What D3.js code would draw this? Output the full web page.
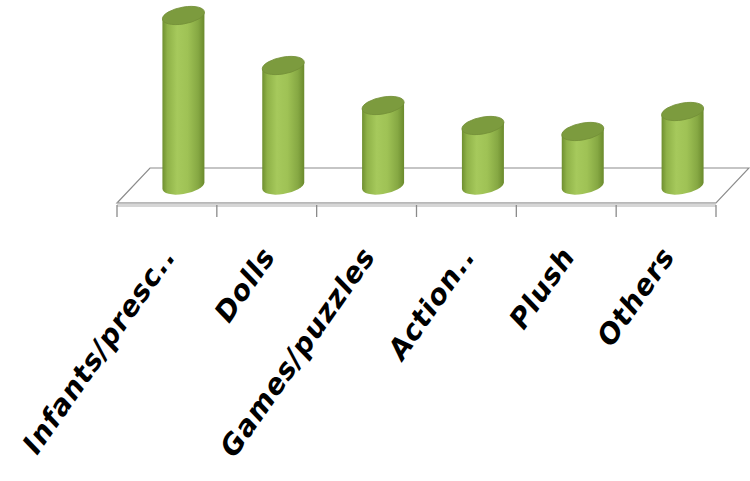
<!DOCTYPE html>
<html>
<head>
<meta charset="utf-8">
<script src="https://cdn.jsdelivr.net/npm/d3@7"></script>
<style>
	body { margin: 0; background: #fff; }
	text { font-family: "DejaVu Sans", sans-serif; }
</style>
</head>
<body>
<script>

// chart data
var categories = ["Infants/presc..", "Dolls", "Games/puzzles", "Action..", "Plush", "Others"];
var values = [17, 12, 8, 6, 5.4, 7.4];

var width = 750,
	height = 481;

// floor of the 3d plot
var floor_y = 203,
	depth_dx = 33,
	depth_dy = -35;

var CYL_R = 21,
	CYL_RY = 8.5,
	TILT = -9;

var LABEL_FONT = 28;

var svg = d3.select("body").append("svg")
	.attr("width", width)
	.attr("height", height);

var defs = svg.append("defs");

var side_grad = defs.append("linearGradient")
	.attr("id", "side")
	.attr("x1", "0%").attr("x2", "100%")
	.attr("y1", "0%").attr("y2", "0%");

side_grad.selectAll("stop")
	.data([
		{o: "0%", c: "#6f8f30"},
		{o: "12%", c: "#8fb248"},
		{o: "35%", c: "#a6c95c"},
		{o: "60%", c: "#9fc255"},
		{o: "85%", c: "#86a843"},
		{o: "100%", c: "#6a8a2c"}
	])
	.enter().append("stop")
	.attr("offset", function(d) { return d.o; })
	.attr("stop-color", function(d) { return d.c; });

var x = d3.scaleBand()
	.domain(categories)
	.range([117, 716])
	.padding(0);

var base_y = floor_y + depth_dy / 2;

var y = d3.scaleLinear()
	.domain([0, 17])
	.range([base_y, 15.5]);

// floor
var x0 = x.range()[0],
	x1 = x.range()[1];

svg.append("path")
	.attr("d", "M" + x0 + "," + floor_y +
		"L" + (x0 + depth_dx) + "," + (floor_y + depth_dy) +
		"L" + (x1 + depth_dx) + "," + (floor_y + depth_dy) +
		"L" + x1 + "," + floor_y + "Z")
	.attr("fill", "#fff")
	.attr("stroke", "#8c8c8c")
	.attr("stroke-width", 1.2);

// thick front edge
svg.append("rect")
	.attr("x", x0)
	.attr("y", floor_y)
	.attr("width", x1 - x0)
	.attr("height", 4)
	.attr("fill", "#d6d6d6");

svg.append("line")
	.attr("x1", x0).attr("x2", x1)
	.attr("y1", floor_y).attr("y2", floor_y)
	.attr("stroke", "#aaaaaa")
	.attr("stroke-width", 1);

// ticks
var tick_x = categories.map(function(d) { return x(d); }).concat([x1]);

svg.append("g")
	.selectAll("line")
	.data(tick_x)
	.enter().append("line")
	.attr("x1", function(d) { return d; })
	.attr("x2", function(d) { return d; })
	.attr("y1", floor_y + 2)
	.attr("y2", floor_y + 14)
	.attr("stroke", "#8a8a8a")
	.attr("stroke-width", 1.3);

// cylinders
var cyl = svg.append("g")
	.selectAll("g")
	.data(values)
	.enter().append("g")
	.attr("transform", function(d, i) {
		var cx = x(categories[i]) + x.bandwidth() / 2 + depth_dx / 2;
		return "translate(" + cx + "," + base_y + ") skewY(" + TILT + ")";
	});

cyl.append("path")
	.attr("d", function(d) {
		var h = base_y - y(d);
		return "M" + (-CYL_R) + "," + (-h) +
			"L" + (-CYL_R) + ",0" +
			"A" + CYL_R + "," + CYL_RY + " 0 0 0 " + CYL_R + ",0" +
			"L" + CYL_R + "," + (-h) + "Z";
	})
	.attr("fill", "url(#side)");

cyl.append("ellipse")
	.attr("cx", 0)
	.attr("cy", function(d) { return -(base_y - y(d)); })
	.attr("rx", CYL_R)
	.attr("ry", CYL_RY)
	.attr("fill", "#7c9b3e")
	.attr("stroke", "#738f37")
	.attr("stroke-width", 0.8);

// category labels
svg.append("g")
	.selectAll("text")
	.data(categories)
	.enter().append("text")
	.attr("transform", function(d) {
		var lx = x(d) + x.bandwidth() / 2 + 10;
		return "translate(" + lx + "," + 256 + ") rotate(-55)";
	})
	.attr("text-anchor", "end")
	.style("font-size", LABEL_FONT + "px")
	.style("font-weight", "bold")
	.style("font-style", "italic")
	.style("letter-spacing", "1px")
	.attr("fill", "#000")
	.text(function(d) { return d; });

</script>
</body>
</html>
